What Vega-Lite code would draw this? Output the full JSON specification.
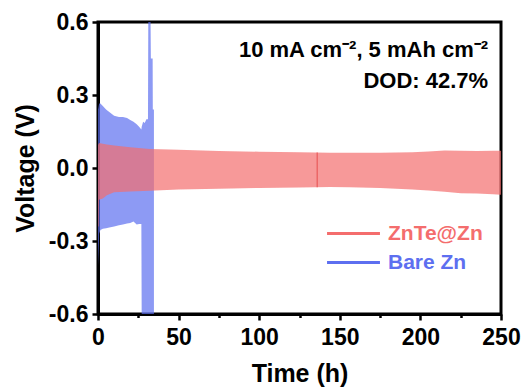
{
  "$schema": "https://vega.github.io/schema/vega-lite/v6.json",
  "width": 403,
  "height": 292,
  "autosize": {"type": "none"},
  "padding": {"left": 98, "top": 22, "right": 24, "bottom": 76},
  "background": "white",
  "config": {
    "font": "Liberation Sans",
    "view": {"stroke": "black", "strokeWidth": 3},
    "axis": {
      "domainColor": "black",
      "domainWidth": 3,
      "tickColor": "black",
      "tickWidth": 2.5,
      "grid": false,
      "labelFont": "Liberation Sans",
      "labelFontWeight": "bold",
      "labelFontSize": 23,
      "labelColor": "black",
      "titleFont": "Liberation Sans",
      "titleFontWeight": "bold",
      "titleFontSize": 25,
      "titleColor": "black"
    }
  },
  "datasets": {
    "bands": [
      {"series": "Bare Zn", "t": 0, "hi": 0.24, "lo": -0.3},
      {"series": "Bare Zn", "t": 0.3, "hi": 0.25, "lo": -0.4},
      {"series": "Bare Zn", "t": 0.7, "hi": 0.265, "lo": -0.27},
      {"series": "Bare Zn", "t": 1.5, "hi": 0.265, "lo": -0.255},
      {"series": "Bare Zn", "t": 3, "hi": 0.255, "lo": -0.25},
      {"series": "Bare Zn", "t": 5, "hi": 0.24, "lo": -0.248},
      {"series": "Bare Zn", "t": 7, "hi": 0.23, "lo": -0.245},
      {"series": "Bare Zn", "t": 10, "hi": 0.215, "lo": -0.24},
      {"series": "Bare Zn", "t": 13, "hi": 0.21, "lo": -0.235},
      {"series": "Bare Zn", "t": 15.5, "hi": 0.21, "lo": -0.232},
      {"series": "Bare Zn", "t": 18, "hi": 0.205, "lo": -0.228},
      {"series": "Bare Zn", "t": 20, "hi": 0.197, "lo": -0.226},
      {"series": "Bare Zn", "t": 22, "hi": 0.19, "lo": -0.22},
      {"series": "Bare Zn", "t": 24, "hi": 0.18, "lo": -0.232},
      {"series": "Bare Zn", "t": 25.5, "hi": 0.17, "lo": -0.23},
      {"series": "Bare Zn", "t": 26.9, "hi": 0.158, "lo": -0.23},
      {"series": "Bare Zn", "t": 27.1, "hi": 0.17, "lo": -0.6},
      {"series": "Bare Zn", "t": 28, "hi": 0.19, "lo": -0.6},
      {"series": "Bare Zn", "t": 29, "hi": 0.185, "lo": -0.6},
      {"series": "Bare Zn", "t": 30, "hi": 0.2, "lo": -0.6},
      {"series": "Bare Zn", "t": 31, "hi": 0.2, "lo": -0.6},
      {"series": "Bare Zn", "t": 31.2, "hi": 0.6, "lo": -0.6},
      {"series": "Bare Zn", "t": 32.6, "hi": 0.6, "lo": -0.6},
      {"series": "Bare Zn", "t": 32.8, "hi": 0.45, "lo": -0.6},
      {"series": "Bare Zn", "t": 33.9, "hi": 0.45, "lo": -0.6},
      {"series": "Bare Zn", "t": 34.0, "hi": 0.24, "lo": -0.6},
      {"series": "Bare Zn", "t": 34.7, "hi": 0.24, "lo": -0.6},
      {"series": "ZnTe@Zn", "t": 0, "hi": 0.095, "lo": -0.24},
      {"series": "ZnTe@Zn", "t": 0.4, "hi": 0.1, "lo": -0.24},
      {"series": "ZnTe@Zn", "t": 0.6, "hi": 0.103, "lo": -0.13},
      {"series": "ZnTe@Zn", "t": 3, "hi": 0.1, "lo": -0.125},
      {"series": "ZnTe@Zn", "t": 5.5, "hi": 0.097, "lo": -0.112},
      {"series": "ZnTe@Zn", "t": 10, "hi": 0.092, "lo": -0.1},
      {"series": "ZnTe@Zn", "t": 20, "hi": 0.085, "lo": -0.097},
      {"series": "ZnTe@Zn", "t": 32, "hi": 0.078, "lo": -0.093},
      {"series": "ZnTe@Zn", "t": 50, "hi": 0.075, "lo": -0.088},
      {"series": "ZnTe@Zn", "t": 75, "hi": 0.07, "lo": -0.085},
      {"series": "ZnTe@Zn", "t": 100, "hi": 0.067, "lo": -0.082},
      {"series": "ZnTe@Zn", "t": 125, "hi": 0.065, "lo": -0.08},
      {"series": "ZnTe@Zn", "t": 144, "hi": 0.063, "lo": -0.078},
      {"series": "ZnTe@Zn", "t": 156, "hi": 0.063, "lo": -0.079},
      {"series": "ZnTe@Zn", "t": 175, "hi": 0.063, "lo": -0.082},
      {"series": "ZnTe@Zn", "t": 195, "hi": 0.065, "lo": -0.088},
      {"series": "ZnTe@Zn", "t": 205, "hi": 0.068, "lo": -0.092},
      {"series": "ZnTe@Zn", "t": 215, "hi": 0.072, "lo": -0.098},
      {"series": "ZnTe@Zn", "t": 225, "hi": 0.071, "lo": -0.104},
      {"series": "ZnTe@Zn", "t": 235, "hi": 0.07, "lo": -0.105},
      {"series": "ZnTe@Zn", "t": 245, "hi": 0.071, "lo": -0.108},
      {"series": "ZnTe@Zn", "t": 250, "hi": 0.071, "lo": -0.11}
    ],
    "glitch": [
      {"series": "ZnTe@Zn", "t": 136, "hi": 0.064, "lo": -0.079}
    ],
    "notes": [
      {"line": "10 mA cm⁻², 5 mAh cm⁻²", "t": 242, "v": 0.457},
      {"line": "DOD: 42.7%", "t": 242, "v": 0.33}
    ]
  },
  "layer": [
    {
      "data": {"name": "bands"},
      "mark": {"type": "area", "opacity": 0.7, "clip": true},
      "encoding": {
        "x": {
          "field": "t",
          "type": "quantitative",
          "scale": {"domain": [0, 250], "nice": false, "zero": false},
          "axis": {
            "title": "Time (h)",
            "values": [0, 25, 50, 75, 100, 125, 150, 175, 200, 225, 250],
            "labelExpr": "datum.value % 50 == 0 ? datum.label : ''",
            "tickSize": {"condition": {"test": "datum.value % 50 != 0", "value": 3.5}, "value": 6},
            "labelPadding": 6,
            "titlePadding": 12,
            "labelFlush": false
          }
        },
        "y": {
          "field": "hi",
          "type": "quantitative",
          "scale": {"domain": [-0.6, 0.6], "nice": false, "zero": false},
          "axis": {
            "title": "Voltage (V)",
            "values": [-0.6, -0.45, -0.3, -0.15, 0, 0.15, 0.3, 0.45, 0.6],
            "labelExpr": "round(datum.value * 100) % 30 == 0 ? (datum.value < -0.001 ? '-' : '') + format(abs(datum.value), '.1f') : ''",
            "tickSize": {"condition": {"test": "round(datum.value * 100) % 30 != 0", "value": 3.5}, "value": 6},
            "labelPadding": 4,
            "titlePadding": 10,
            "labelFlush": false
          }
        },
        "y2": {"field": "lo"},
        "color": {
          "field": "series",
          "type": "nominal",
          "sort": ["ZnTe@Zn", "Bare Zn"],
          "scale": {"domain": ["ZnTe@Zn", "Bare Zn"], "range": ["#f46d6d", "#5d6ff0"]},
          "legend": {
            "title": null,
            "orient": "none",
            "legendX": 245,
            "legendY": 201,
            "padding": 0,
            "symbolType": "M-5,0H5",
            "symbolSize": 112,
            "symbolStrokeWidth": 3,
            "symbolOpacity": 1,
            "labelFont": "Liberation Sans",
            "labelFontWeight": "bold",
            "labelFontSize": 21,
            "labelOffset": 24,
            "rowPadding": 7,
            "encode": {
              "labels": {"update": {"fill": {"signal": "scale('color', datum.value)"}}},
              "symbols": {"update": {"stroke": {"signal": "scale('color', datum.value)"}, "strokeOpacity": {"value": 1}, "fillOpacity": {"value": 0}}}
            }
          }
        },
        "order": {"field": "series", "sort": "ascending"}
      }
    },
    {
      "data": {"name": "glitch"},
      "mark": {"type": "rule", "color": "#e85a5a", "strokeWidth": 1.5, "opacity": 0.8},
      "encoding": {
        "x": {"field": "t", "type": "quantitative"},
        "y": {"field": "hi", "type": "quantitative"},
        "y2": {"field": "lo"}
      }
    },
    {
      "data": {"name": "notes"},
      "mark": {"type": "text", "align": "right", "baseline": "alphabetic", "font": "Liberation Sans", "fontWeight": "bold", "fontSize": 22, "color": "black"},
      "encoding": {
        "x": {"field": "t", "type": "quantitative"},
        "y": {"field": "v", "type": "quantitative"},
        "text": {"field": "line"}
      }
    }
  ]
}
